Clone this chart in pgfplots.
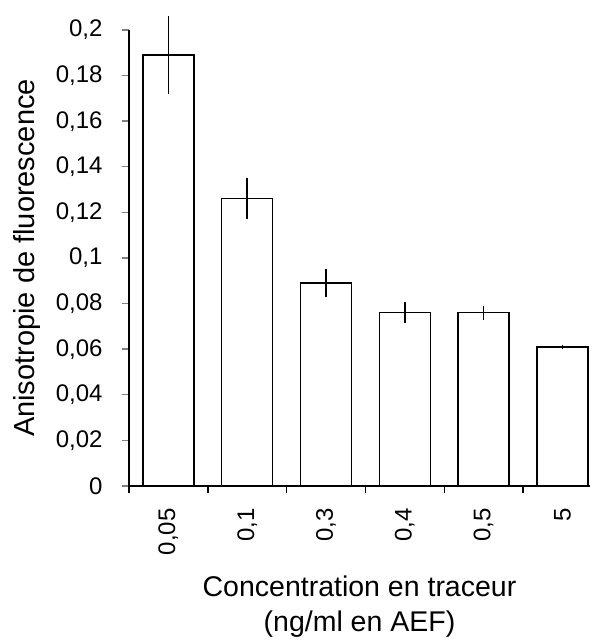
\documentclass[border=0pt]{standalone}
\usepackage{pgfplots}
\pgfplotsset{compat=1.18}
\usepackage{fontspec}
\setmainfont{Liberation Sans}
\begin{document}
\begin{tikzpicture}
\begin{axis}[
  scale only axis,
  width=461pt, height=456pt,
  xmin=-0.5, xmax=5.35,
  ymin=0, ymax=0.2,
  clip=false,
  axis x line*=bottom, axis y line*=left,
  axis line style={line width=1.4pt, -},
  ytick={0,0.02,...,0.2},
  ytick style={line width=1.4pt},
  major tick length=7pt,
  tick align=outside,
  yticklabel style={font=\fontsize{24}{28}\selectfont, xshift=-16pt,
    /pgf/number format/.cd, fixed, precision=2, use comma, assume math mode=true},
  xtick={0,1,2,3,4,5},
  xticklabels={{0,05},{0,1},{0,3},{0,4},{0,5},{5}},
  x tick style={draw=none},
  xticklabel style={font=\fontsize{24}{28}\selectfont, yshift=-12pt, rotate=90, anchor=east},
  extra x ticks={-0.5,0.5,1.5,2.5,3.5,4.5},
  extra x tick labels={},
  extra x tick style={x tick style={draw=black, line width=1.4pt}, major tick length=7pt},
  ylabel={Anisotropie de fluorescence},
  ylabel style={font=\fontsize{29}{34}\selectfont, yshift=8pt},
  xlabel={Concentration en traceur\\(ng/ml en AEF)},
  xlabel style={font=\fontsize{28.5}{35}\selectfont, align=center},
  ybar, bar width=51pt, bar shift=0pt,
]
\addplot[draw=black, fill=white, line width=1.5pt,
  error bars/.cd, y dir=both, y explicit,
  error mark=none, error bar style={line width=1.5pt}]
  coordinates {
  (0,0.189) +- (0,0.017)
  (1,0.126) +- (0,0.009)
  (2,0.089) +- (0,0.006)
  (3,0.076) +- (0,0.0047)
  (4,0.076) +- (0,0.003)
  (5,0.061) +- (0,0.001)
  };
\end{axis}
\pgfresetboundingbox
\path (current axis.south west) ++(-129pt,-158pt) rectangle ++(595pt,644pt);
\end{tikzpicture}
\end{document}
